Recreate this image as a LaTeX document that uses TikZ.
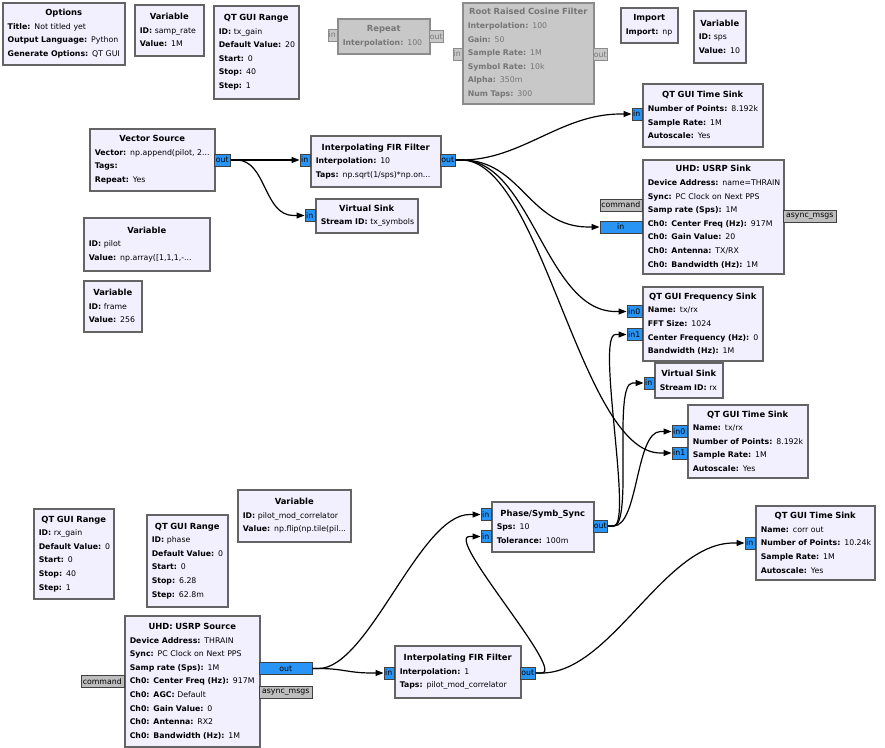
\documentclass[tikz,border=0pt]{standalone}
\usepackage{fontspec}
\setmainfont{DejaVu Sans}
\usepackage{xcolor}
\usepackage{tikz}
\usetikzlibrary{positioning,calc,arrows.meta}
\setlength{\parindent}{0pt}

\definecolor{blkfill}{RGB}{242,240,255}
\definecolor{blkline}{RGB}{100,100,100}
\definecolor{offfill}{RGB}{200,200,200}
\definecolor{offline}{RGB}{140,140,140}
\definecolor{offtext}{RGB}{118,118,118}
\definecolor{portblue}{RGB}{40,148,245}
\definecolor{portgray}{RGB}{190,190,190}

\newcommand{\btitle}[1]{{\centering\bfseries\fontsize{8.4}{13.6}\selectfont #1\par}}
\newcommand{\bparam}[2]{\par\mbox{\textbf{#1} #2}}

\tikzset{
	blk/.style={draw=blkline, fill=blkfill, line width=1.5pt, anchor=north west, inner xsep=5pt, inner ysep=2pt, align=left, font=\fontsize{7.8}{13.6}\selectfont},
	blkoff/.style={blk, draw=offline, fill=offfill, text=offtext},
	pin/.style={draw=black!75, fill=portblue, line width=0.5pt, inner sep=0pt, minimum height=12pt, font=\fontsize{7.8}{9}\selectfont},
	pmsg/.style={pin, fill=portgray},
	poff/.style={pin, draw=offline, fill=offfill, text=offtext},
	wire/.style={line width=1.2pt, -{Triangle[length=8pt,width=6pt]}}
}

\begin{document}
\begin{tikzpicture}[x=1pt,y=-1pt]
	\useasboundingbox[fill=white] (0,0) rectangle (885,747);
	
	% Khối biến, tuỳ chọn
	\node[blk, text width=112pt, minimum height=62pt] (opts) at (2,2) {\btitle{Options}\bparam{Title:}{Not titled yet}\bparam{Output Language:}{Python}\bparam{Generate Options:}{QT GUI}};
	\node[blk, text width=59pt, minimum height=51pt] (samprate) at (134,4) {\btitle{Variable}\bparam{ID:}{samp\_rate}\bparam{Value:}{1M}};
	\node[blk, text width=75pt, minimum height=93pt] (txgain) at (213,5) {\btitle{QT GUI Range}\bparam{ID:}{tx\_gain}\bparam{Default Value:}{20}\bparam{Start:}{0}\bparam{Stop:}{40}\bparam{Step:}{1}};
	\node[blk, text width=47pt, minimum height=35pt] (imp) at (620,7) {\btitle{Import}\bparam{Import:}{np}};
	\node[blk, text width=42pt, minimum height=52pt] (sps) at (693,10) {\btitle{Variable}\bparam{ID:}{sps}\bparam{Value:}{10}};
	\node[blk, text width=116pt, minimum height=53pt] (pilot) at (83,217) {\btitle{Variable}\bparam{ID:}{pilot}\bparam{Value:}{np.array([1,1,1,-...}};
	\node[blk, text width=48pt, minimum height=51pt] (frame) at (83,280) {\btitle{Variable}\bparam{ID:}{frame}\bparam{Value:}{256}};
	\node[blk, text width=103pt, minimum height=52pt] (pmc) at (237,489) {\btitle{Variable}\bparam{ID:}{pilot\_mod\_correlator}\bparam{Value:}{np.flip(np.tile(pil...}};
	\node[blk, text width=70pt, minimum height=90pt] (rxgain) at (33,508) {\btitle{QT GUI Range}\bparam{ID:}{rx\_gain}\bparam{Default Value:}{0}\bparam{Start:}{0}\bparam{Stop:}{40}\bparam{Step:}{1}};
	\node[blk, text width=71pt, minimum height=92pt] (phase) at (146,514) {\btitle{QT GUI Range}\bparam{ID:}{phase}\bparam{Default Value:}{0}\bparam{Start:}{0}\bparam{Stop:}{6.28}\bparam{Step:}{62.8m}};
	
	% Khối bị tắt
	\node[blkoff, text width=82pt, minimum height=35pt] (rep) at (337,18) {\btitle{Repeat}\bparam{Interpolation:}{100}};
	\node[blkoff, text width=121pt, minimum height=101pt] (rrc) at (462,2) {\btitle{Root Raised Cosine Filter}\bparam{Interpolation:}{100}\bparam{Gain:}{50}\bparam{Sample Rate:}{1M}\bparam{Symbol Rate:}{10k}\bparam{Alpha:}{350m}\bparam{Num Taps:}{300}};
	
	% Nhánh phát
	\node[blk, text width=115pt, minimum height=62pt] (vsrc) at (89,128) {\btitle{Vector Source}\bparam{Vector:}{np.append(pilot, 2...}\bparam{Tags:}{}\bparam{Repeat:}{Yes}};
	\node[blk, text width=120pt, minimum height=51pt] (fir1) at (310,135) {\btitle{Interpolating FIR Filter}\bparam{Interpolation:}{10}\bparam{Taps:}{np.sqrt(1/sps)*np.on...}};
	\node[blk, text width=92pt, minimum height=34pt] (vs1) at (315,198) {\btitle{Virtual Sink}\bparam{Stream ID:}{tx\_symbols}};
	\node[blk, text width=110pt, minimum height=63pt] (ts1) at (642,83) {\btitle{QT GUI Time Sink}\bparam{Number of Points:}{8.192k}\bparam{Sample Rate:}{1M}\bparam{Autoscale:}{Yes}};
	\node[blk, text width=131pt, minimum height=114pt] (usnk) at (642,159) {\btitle{UHD: USRP Sink}\bparam{Device Address:}{name=THRAIN}\bparam{Sync:}{PC Clock on Next PPS}\bparam{Samp rate (Sps):}{1M}\bparam{Ch0: Center Freq (Hz):}{917M}\bparam{Ch0: Gain Value:}{20}\bparam{Ch0: Antenna:}{TX/RX}\bparam{Ch0: Bandwidth (Hz):}{1M}};
	\node[blk, text width=110pt, minimum height=74pt] (fs) at (642,286) {\btitle{QT GUI Frequency Sink}\bparam{Name:}{tx/rx}\bparam{FFT Size:}{1024}\bparam{Center Frequency (Hz):}{0}\bparam{Bandwidth (Hz):}{1M}};
	\node[blk, text width=58pt, minimum height=35pt] (vs2) at (654,362) {\btitle{Virtual Sink}\bparam{Stream ID:}{rx}};
	\node[blk, text width=110pt, minimum height=73pt] (ts2) at (687,404) {\btitle{QT GUI Time Sink}\bparam{Name:}{tx/rx}\bparam{Number of Points:}{8.192k}\bparam{Sample Rate:}{1M}\bparam{Autoscale:}{Yes}};
	
	% Nhánh thu
	\node[blk, text width=92pt, minimum height=50pt] (sync) at (491,501) {\btitle{Phase/Symb\_Sync}\bparam{Sps:}{10}\bparam{Tolerance:}{100m}};
	\node[blk, text width=109pt, minimum height=74pt] (ts3) at (755,505) {\btitle{QT GUI Time Sink}\bparam{Name:}{corr out}\bparam{Number of Points:}{10.24k}\bparam{Sample Rate:}{1M}\bparam{Autoscale:}{Yes}};
	\node[blk, text width=125pt, minimum height=131pt] (usrc) at (124,615) {\btitle{UHD: USRP Source}\bparam{Device Address:}{THRAIN}\bparam{Sync:}{PC Clock on Next PPS}\bparam{Samp rate (Sps):}{1M}\bparam{Ch0: Center Freq (Hz):}{917M}\bparam{Ch0: AGC:}{Default}\bparam{Ch0: Gain Value:}{0}\bparam{Ch0: Antenna:}{RX2}\bparam{Ch0: Bandwidth (Hz):}{1M}};
	\node[blk, text width=116pt, minimum height=52pt] (fir2) at (394,645) {\btitle{Interpolating FIR Filter}\bparam{Interpolation:}{1}\bparam{Taps:}{pilot\_mod\_correlator}};
	
	% Cổng
	\node[poff, anchor=east, minimum width=9pt] (rep-in) at (337,35) {in};
	\node[poff, anchor=west, minimum width=14pt] (rep-out) at (429,36.5) {out};
	\node[poff, anchor=east, minimum width=9pt] (rrc-in) at (462,54) {in};
	\node[poff, anchor=west, minimum width=14pt] (rrc-out) at (593,54.5) {out};
	\node[pin, anchor=west, minimum width=16pt] (vsrc-out) at (214,160) {out};
	\node[pin, anchor=east, minimum width=10pt] (fir1-in) at (310,160) {in};
	\node[pin, anchor=west, minimum width=15pt] (fir1-out) at (440,160) {out};
	\node[pin, anchor=east, minimum width=10pt] (vs1-in) at (315,215.5) {in};
	\node[pin, anchor=east, minimum width=10pt] (ts1-in) at (642,114) {in};
	\node[pmsg, anchor=east, minimum width=42pt] (usnk-cmd) at (642,205) {command};
	\node[pin, anchor=east, minimum width=42pt] (usnk-in) at (642,227) {in};
	\node[pmsg, anchor=west, minimum width=53pt] (usnk-msg) at (783,216) {async\_msgs};
	\node[pin, anchor=east, minimum width=15pt] (fs-in0) at (642,311.5) {in0};
	\node[pin, anchor=east, minimum width=15pt] (fs-in1) at (642,334.5) {in1};
	\node[pin, anchor=east, minimum width=10pt] (vs2-in) at (654,383) {in};
	\node[pin, anchor=east, minimum width=15pt] (ts2-in0) at (687,431.5) {in0};
	\node[pin, anchor=east, minimum width=15pt] (ts2-in1) at (687,453) {in1};
	\node[pin, anchor=east, minimum width=10pt] (sync-in0) at (491,514.5) {in};
	\node[pin, anchor=east, minimum width=10pt] (sync-in1) at (491,536.5) {in};
	\node[pin, anchor=west, minimum width=14pt] (sync-out) at (593,526) {out};
	\node[pin, anchor=east, minimum width=10pt] (ts3-in) at (755,543) {in};
	\node[pmsg, anchor=east, minimum width=43pt] (usrc-cmd) at (124,681.5) {command};
	\node[pin, anchor=west, minimum width=53pt] (usrc-out) at (259,668.5) {out};
	\node[pmsg, anchor=west, minimum width=53pt] (usrc-msg) at (259,692) {async\_msgs};
	\node[pin, anchor=east, minimum width=10pt] (fir2-in) at (394,673) {in};
	\node[pin, anchor=west, minimum width=15pt] (fir2-out) at (520,673) {out};
	
	% Dây nối
	\draw[wire] (vsrc-out.east) -- (fir1-in.west);
	\draw[wire] (vsrc-out.east) -- ++(6pt,0) .. controls +(30pt,0) and +(-30pt,0) .. ([xshift=-11pt]vs1-in.west) -- (vs1-in.west);
	\draw[wire] (fir1-out.east) -- ++(6pt,0) .. controls +(60pt,0) and +(-60pt,0) .. ([xshift=-11pt]ts1-in.west) -- (ts1-in.west);
	\draw[wire] (fir1-out.east) -- ++(6pt,0) .. controls +(60pt,0) and +(-60pt,0) .. ([xshift=-11pt]usnk-in.west) -- (usnk-in.west);
	\draw[wire] (fir1-out.east) -- ++(6pt,0) .. controls +(70pt,0) and +(-70pt,0) .. ([xshift=-11pt]fs-in0.west) -- (fs-in0.west);
	\draw[wire] (fir1-out.east) -- ++(6pt,0) .. controls +(80pt,0) and +(-80pt,0) .. ([xshift=-11pt]ts2-in1.west) -- (ts2-in1.west);
	\draw[wire] (sync-out.east) -- ++(6pt,0) .. controls +(20pt,0) and +(-20pt,0) .. ([xshift=-11pt]fs-in1.west) -- (fs-in1.west);
	\draw[wire] (sync-out.east) -- ++(6pt,0) .. controls +(20pt,0) and +(-20pt,0) .. ([xshift=-11pt]vs2-in.west) -- (vs2-in.west);
	\draw[wire] (sync-out.east) -- ++(6pt,0) .. controls +(25pt,0) and +(-25pt,0) .. ([xshift=-11pt]ts2-in0.west) -- (ts2-in0.west);
	\draw[wire] (usrc-out.east) -- ++(6pt,0) .. controls +(50pt,0) and +(-50pt,0) .. ([xshift=-11pt]sync-in0.west) -- (sync-in0.west);
	\draw[wire] (usrc-out.east) -- ++(6pt,0) .. controls +(25pt,0) and +(-25pt,0) .. ([xshift=-11pt]fir2-in.west) -- (fir2-in.west);
	\draw[wire] (fir2-out.east) -- ++(6pt,0) .. controls +(70pt,0) and +(-70pt,0) .. ([xshift=-11pt]ts3-in.west) -- (ts3-in.west);
	\draw[wire] (fir2-out.east) -- ++(6pt,0) .. controls +(25pt,0) and +(-25pt,0) .. ([xshift=-11pt]sync-in1.west) -- (sync-in1.west);
\end{tikzpicture}
\end{document}
